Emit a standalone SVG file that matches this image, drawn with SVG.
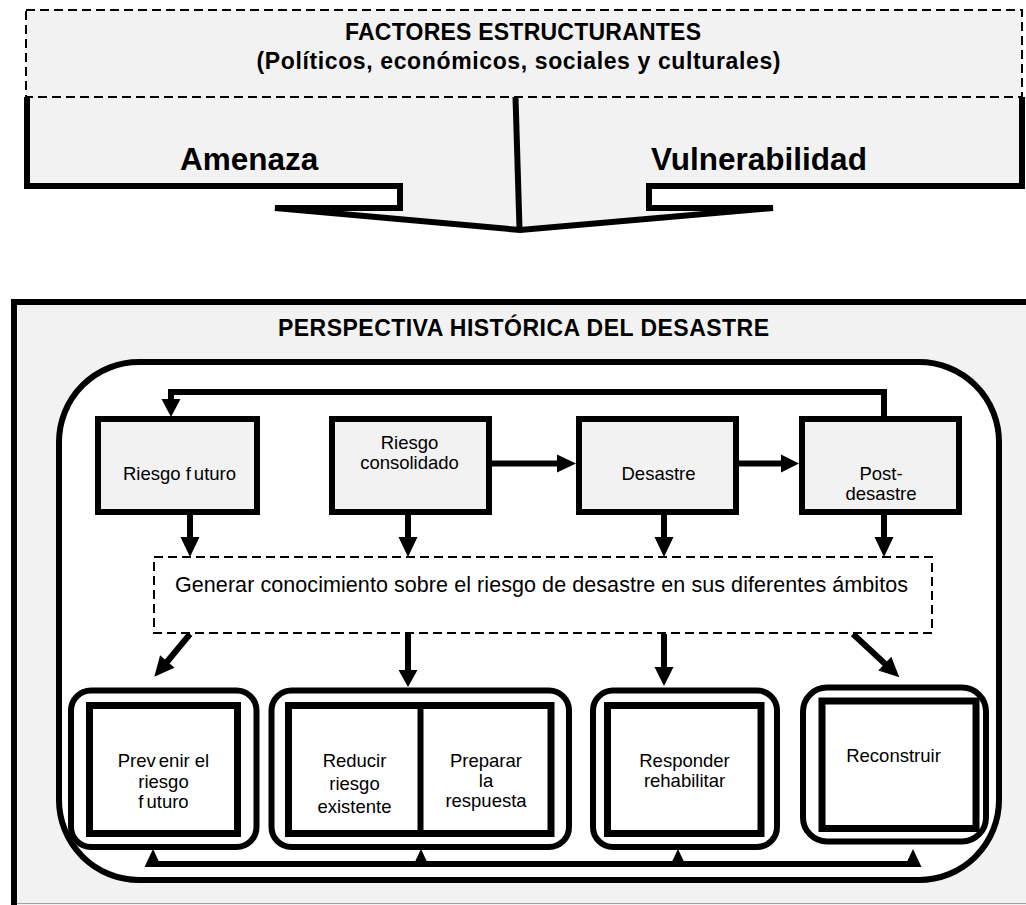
<svg xmlns="http://www.w3.org/2000/svg" width="1026" height="905" viewBox="0 0 1026 905">
<style>
text{font-family:"Liberation Sans",Arial,sans-serif;fill:#000}
.b{font-weight:bold}
.m{text-anchor:middle}
.t18{font-size:18.5px}
.box{fill:#f2f2f2;stroke:#000;stroke-width:6}
.dash{stroke:#000;stroke-width:2;stroke-dasharray:9 5}
.ln{fill:none;stroke:#000;stroke-width:6;stroke-linejoin:miter}
.ah{fill:#000}
.grp{fill:#fff;stroke:#000;stroke-width:6}
.inner{fill:#fff;stroke:#000;stroke-width:7}
</style>
<rect width="1026" height="905" fill="#fff"/>

<g id="block-arrow">
<polygon fill="#f2f2f2" points="27,97 27,186 400,186 400,208 275,208 520,230 773,208 649,208 649,186 1022,186 1022,97"/>
<path class="ln" d="M27,97 V186 H400 V208 H275 L520,230 L773,208 H649 V186 H1022 V97"/>
<line class="ln" x1="515.5" y1="97" x2="519.5" y2="229"/>
<text class="b" x="180" y="170" font-size="31.5">Amenaza</text>
<text class="b" x="651" y="170" font-size="31.5">Vulnerabilidad</text>
</g>

<g id="factores">
<rect x="26" y="10" width="996" height="87" fill="#f2f2f2" class="dash"/>
<text class="b m" x="523" y="40" font-size="23" textLength="356" lengthAdjust="spacing">FACTORES ESTRUCTURANTES</text>
<text class="b m" x="518.5" y="69" font-size="23" textLength="524" lengthAdjust="spacing">(Políticos, económicos, sociales y culturales)</text>
</g>

<g id="perspectiva">
<rect x="14" y="302" width="1040" height="640" fill="#f2f2f2" stroke="#000" stroke-width="6"/>
<line x1="17" y1="903.5" x2="1026" y2="903.5" stroke="#a0a0a0" stroke-width="1"/>
<text class="b m" x="523.5" y="336" font-size="23" textLength="491" lengthAdjust="spacing">PERSPECTIVA HISTÓRICA DEL DESASTRE</text>
<rect x="59" y="362" width="940" height="518" rx="80" ry="80" fill="#fff" stroke="#000" stroke-width="6"/>
</g>

<g id="riesgo-futuro">
<rect class="box" x="98" y="419" width="159" height="93"/>
<text class="m t18" x="179.5" y="480">Riesgo f<tspan dx="3">uturo</tspan></text>
</g>
<g id="riesgo-consolidado">
<rect class="box" x="332" y="419" width="157" height="93"/>
<text class="m t18" x="409.5" y="449">Riesgo</text>
<text class="m t18" x="409.5" y="469">consolidado</text>
</g>
<g id="desastre">
<rect class="box" x="579" y="419" width="157" height="93"/>
<text class="m t18" x="658.5" y="480">Desastre</text>
</g>
<g id="post-desastre">
<rect class="box" x="802" y="419" width="157" height="93"/>
<text class="m t18" x="881" y="480">Post-</text>
<text class="m t18" x="881" y="500">desastre</text>
</g>

<g id="generar">
<rect x="154" y="557" width="778" height="76" fill="#fff" class="dash"/>
<text x="175" y="592" font-size="21.5" textLength="733" lengthAdjust="spacing">Generar conocimiento sobre el riesgo de desastre en sus diferentes ámbitos</text>
</g>

<g id="prevenir">
<rect class="grp" x="71" y="690.5" width="185.5" height="156.5" rx="20" ry="20"/>
<rect class="inner" x="89.5" y="705.5" width="148" height="128"/>
<text class="m t18" x="163.5" y="767">Prev<tspan dx="3">enir el</tspan></text>
<text class="m t18" x="163.5" y="788">riesgo</text>
<text class="m t18" x="163.5" y="808">f<tspan dx="3">uturo</tspan></text>
</g>

<g id="reducir-preparar">
<rect class="grp" x="271.5" y="690.5" width="297.5" height="156.5" rx="20" ry="20"/>
<rect class="inner" x="288.5" y="705.5" width="262.5" height="128"/>
<line x1="420.5" y1="705.5" x2="420.5" y2="833.5" stroke="#000" stroke-width="6"/>
<text class="m t18" x="354.5" y="767">Reducir</text>
<text class="m t18" x="354.5" y="790">riesgo</text>
<text class="m t18" x="354.5" y="813">existente</text>
<text class="m t18" x="486" y="767">Preparar</text>
<text class="m t18" x="486" y="787">la</text>
<text class="m t18" x="486" y="807">respuesta</text>
</g>

<g id="responder">
<rect class="grp" x="593" y="690.5" width="184" height="156.5" rx="20" ry="20"/>
<rect class="inner" x="607.5" y="705.5" width="153.5" height="128"/>
<text class="m t18" x="684.5" y="767">Responder</text>
<text class="m t18" x="684.5" y="787">rehabilitar</text>
</g>

<g id="reconstruir">
<rect class="grp" x="803" y="687.5" width="183" height="154" rx="24" ry="24"/>
<rect class="inner" x="822" y="701" width="154" height="127.5"/>
<text class="m t18" x="893.5" y="762">Reconstruir</text>
</g>

<g id="connectors">
<path class="ln" d="M884,416 V392 H171 V400"/>
<polygon class="ah" points="161.5,399 180.5,399 171,417"/>
<line class="ln" x1="492" y1="463.5" x2="558" y2="463.5"/>
<polygon class="ah" points="557,454.5 557,472.5 576,463.5"/>
<line class="ln" x1="739" y1="463.5" x2="782" y2="463.5"/>
<polygon class="ah" points="781,454.5 781,472.5 799,463.5"/>
<line class="ln" x1="190" y1="515" x2="190" y2="538"/>
<polygon class="ah" points="180.5,537 199.5,537 190,557"/>
<line class="ln" x1="408" y1="515" x2="408" y2="538"/>
<polygon class="ah" points="398.5,537 417.5,537 408,557"/>
<line class="ln" x1="664" y1="515" x2="664" y2="538"/>
<polygon class="ah" points="654.5,537 673.5,537 664,557"/>
<line class="ln" x1="884" y1="515" x2="884" y2="538"/>
<polygon class="ah" points="874.5,537 893.5,537 884,557"/>
<line class="ln" x1="190" y1="634" x2="166.5" y2="662.5"/>
<polygon class="ah" points="154.3,676.7 174.5,667.7 160.1,655.3"/>
<line class="ln" x1="408" y1="634" x2="408" y2="671"/>
<polygon class="ah" points="398.5,670 417.5,670 408,687"/>
<line class="ln" x1="664" y1="634" x2="664" y2="668"/>
<polygon class="ah" points="654.5,667 673.5,667 664,686"/>
<line class="ln" x1="853" y1="634" x2="885.5" y2="664.3"/>
<polygon class="ah" points="899.3,677.3 878.3,670.5 891.3,656.7"/>
<line class="ln" x1="153" y1="864" x2="913" y2="864"/>
<polygon class="ah" points="144.5,867 161.5,867 153,849"/>
<polygon class="ah" points="412.5,867 429.5,867 421,849"/>
<polygon class="ah" points="669.5,867 686.5,867 678,849"/>
<polygon class="ah" points="904.5,867 921.5,867 913,849"/>
</g>
</svg>
